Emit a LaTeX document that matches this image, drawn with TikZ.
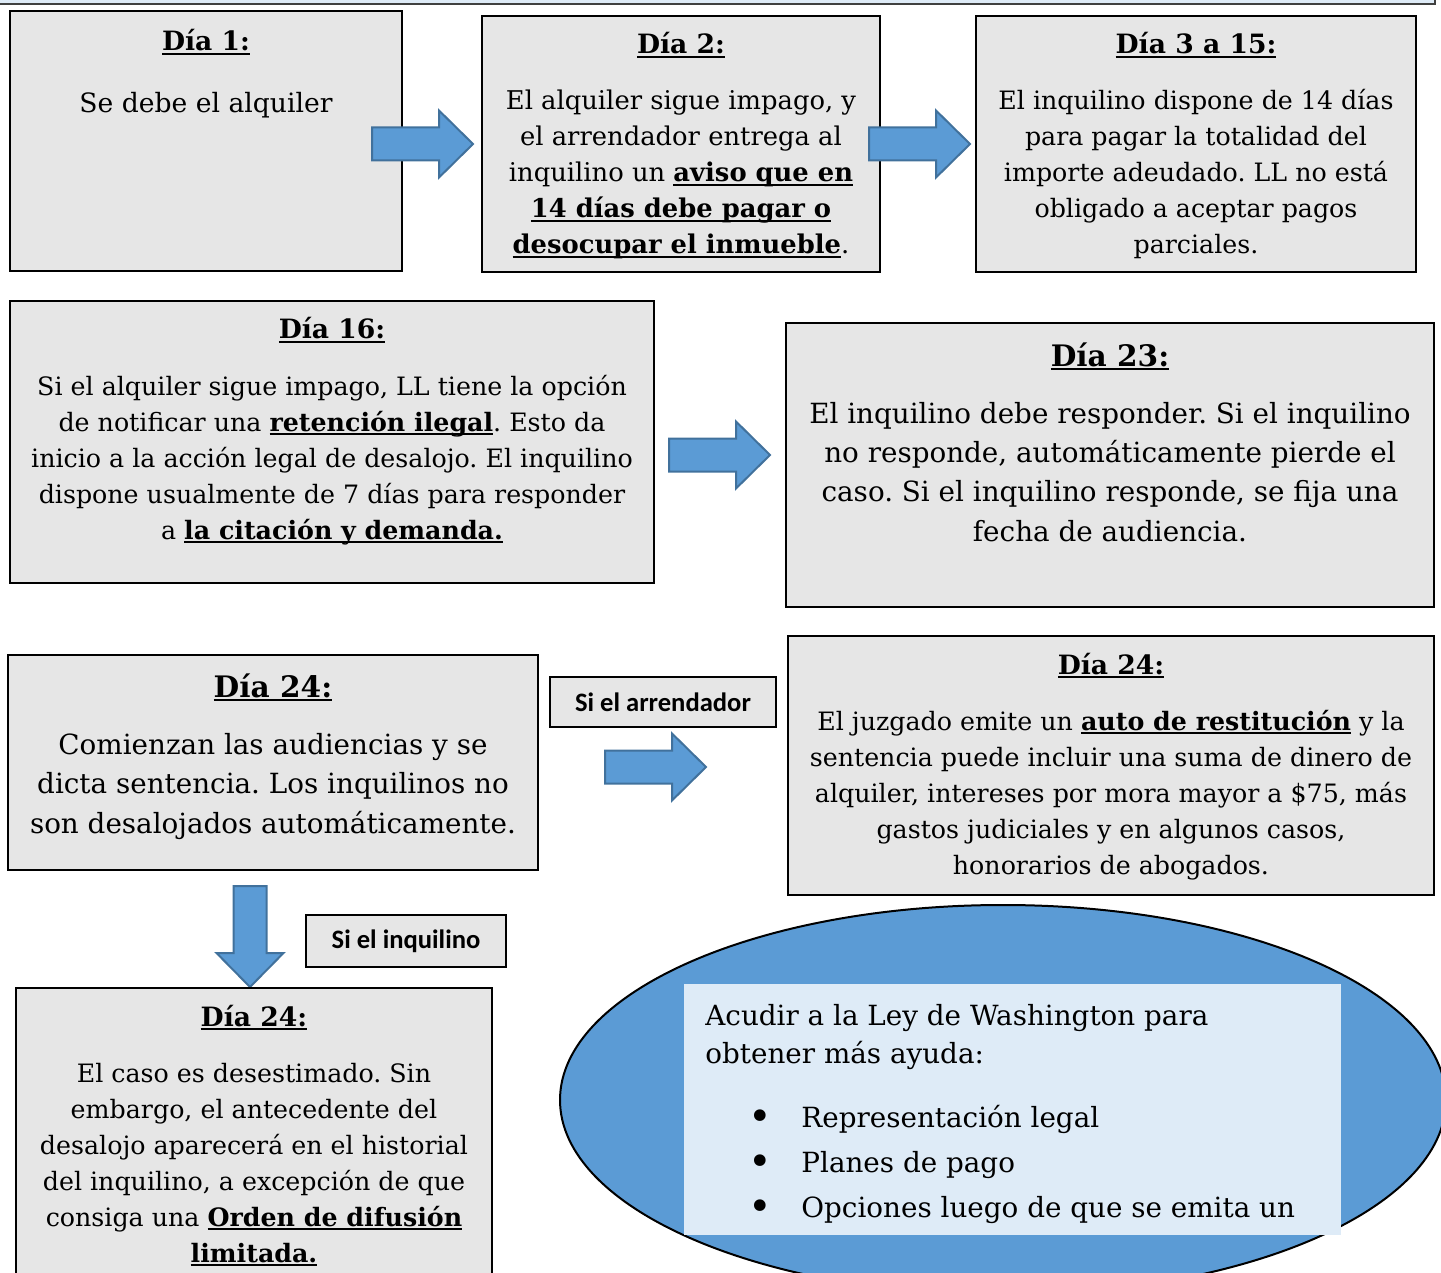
\documentclass[tikz,border=0pt]{standalone}
\usepackage{fontspec}
\setmainfont{DejaVu Serif}
\newfontfamily\labelfont{Carlito}
\usetikzlibrary{positioning}

\definecolor{boxgray}{HTML}{E6E6E6}
\definecolor{arrowblue}{HTML}{5B9BD5}
\definecolor{arrowedge}{HTML}{41719C}
\definecolor{helpblue}{HTML}{DEEBF7}

\newsavebox{\ulbox}
\newcommand{\ulin}[1]{\sbox{\ulbox}{#1}\rlap{\rule[-1.8pt]{\wd\ulbox}{0.8pt}}\usebox{\ulbox}}
\newcommand{\ulbf}[1]{\ulin{\bfseries #1}}

\tikzset{
  daybox/.style={draw=black, line width=1.1pt, fill=boxgray},
  daytitle/.style={anchor=base, inner sep=0pt, font=\fontsize{13.3}{18}\selectfont\bfseries},
  bigtitle/.style={daytitle, font=\fontsize{14.8}{18}\selectfont\bfseries},
  daytext/.style={anchor=base, align=center, inner sep=0pt, font=\fontsize{12.65}{18}\selectfont},
  bigtext/.style={daytext, font=\fontsize{13.9}{19.6}\selectfont},
  helptext/.style={inner sep=0pt, font=\fontsize{13.9}{19}\selectfont},
  iflabel/.style={draw=black, line width=0.8pt, fill=boxgray, inner sep=0pt,
    font=\labelfont\fontsize{13.3}{15}\selectfont\bfseries},
  blockarrow/.pic={
    \draw[fill=arrowblue, draw=arrowedge, line width=1pt]
      (0,-16.5) -- (67,-16.5) -- (67,-33.5) -- (101,0) -- (67,33.5) -- (67,16.5) -- (0,16.5) -- cycle;
  }
}

\begin{document}
\frenchspacing
\begin{tikzpicture}[x=0.5pt, y=-0.5pt]
\useasboundingbox (0,0) rectangle (1441,1273);
\clip (0,0) rectangle (1441,1273);
\draw[fill=helpblue, draw=black!75, line width=0.8pt] (-5,-5) rectangle (1435,4);

% first row (text nodes sit on their last baseline)
\draw[daybox] (10,11) rectangle (402,271);
\node[daytitle] (t1) at (206,51) {\ulin{Día 1:}};
\node[daytext, font=\fontsize{13.3}{18}\selectfont] (b1) at (206,113) {Se debe el alquiler};
\pic (a1) at (372,144) {blockarrow};
\draw[daybox] (482,16) rectangle (880,272);
\node[daytitle] (t2) at (681,54) {\ulin{Día 2:}};
\node[daytext, font=\fontsize{12.9}{18}\selectfont] (b2) at (681,254) {El alquiler sigue impago, y\\
  el arrendador entrega al\\
  inquilino un \ulbf{aviso que en}\\
  \ulbf{14 días debe pagar o}\\
  \ulbf{desocupar el inmueble}.};
\pic (a2) at (869,144) {blockarrow};
\draw[daybox] (976,16) rectangle (1416,272);
\node[daytitle] (t3) at (1196,54) {\ulin{Día 3 a 15:}};
\node[daytext] (b3) at (1196,254) {El inquilino dispone de 14 días\\
  para pagar la totalidad del\\
  importe adeudado. LL no está\\
  obligado a aceptar pagos\\
  parciales.};

% second row
\draw[daybox] (10,301) rectangle (654,583);
\node[daytitle] (t4) at (332,339) {\ulin{Día 16:}};
\node[daytext] (b4) at (332,539) {Si el alquiler sigue impago, LL tiene la opción\\
  de notificar una \ulbf{retención ilegal}. Esto da\\
  inicio a la acción legal de desalojo. El inquilino\\
  dispone usualmente de 7 días para responder\\
  a \ulbf{la citación y demanda.}};
\pic (a3) at (669,455) {blockarrow};
\draw[daybox] (786,323) rectangle (1434,607);
\node[bigtitle] (t5) at (1110,366) {\ulin{Día 23:}};
\node[bigtext] (b5) at (1110,541) {El inquilino debe responder. Si el inquilino\\
  no responde, automáticamente pierde el\\
  caso. Si el inquilino responde, se fija una\\
  fecha de audiencia.};

% third row
\draw[daybox] (8,655) rectangle (538,870);
\node[bigtitle] (t6) at (273,697) {\ulin{Día 24:}};
\node[bigtext] (b6) at (273,833) {Comienzan las audiencias y se\\
  dicta sentencia. Los inquilinos no\\
  son desalojados automáticamente.};
\node[iflabel, minimum width=113pt, minimum height=25pt] (l1) at (663,702) {Si el arrendador};
\pic (a4) at (605,767) {blockarrow};
\draw[daybox] (788,636) rectangle (1434,895);
\node[daytitle] (t7) at (1111,674) {\ulin{Día 24:}};
\node[daytext] (b7) at (1111,874) {El juzgado emite un \ulbf{auto de restitución} y la\\
  sentencia puede incluir una suma de dinero de\\
  alquiler, intereses por mora mayor a \$75, más\\
  gastos judiciales y en algunos casos,\\
  honorarios de abogados.};

% tenant branch
\pic[rotate=-90] (a5) at (250,886) {blockarrow};
\node[iflabel, minimum width=100pt, minimum height=26pt] (l2) at (406,941) {Si el inquilino};
\draw[daybox] (16,988) rectangle (492,1290);
\node[daytitle] (t8) at (254,1026) {\ulin{Día 24:}};
\node[daytext] (b8) at (254,1262) {El caso es desestimado. Sin\\
  embargo, el antecedente del\\
  desalojo aparecerá en el historial\\
  del inquilino, a excepción de que\\
  consiga una \ulbf{Orden de difusión}\\
  \ulbf{limitada.}};

% help
\draw[fill=arrowblue, draw=black, line width=1pt] (1003,1100) ellipse [x radius=443, y radius=195];
\fill[helpblue] (684,984) rectangle (1341,1235);
\node[helptext, anchor=base west, align=left] (h0) at (705,1063) {Acudir a la Ley de Washington para\\obtener más ayuda:};
\foreach \entry [count=\i] in {Representación legal, Planes de pago, Opciones luego de que se emita un}{
  \node[helptext, anchor=center] (dot\i) at (760,{1075+45*\i}) {\fontsize{20}{20}\selectfont\textbullet};
  \node[helptext, anchor=base west] (item\i) at (801,{1082+45*\i}) {\entry};
}
\end{tikzpicture}
\end{document}
